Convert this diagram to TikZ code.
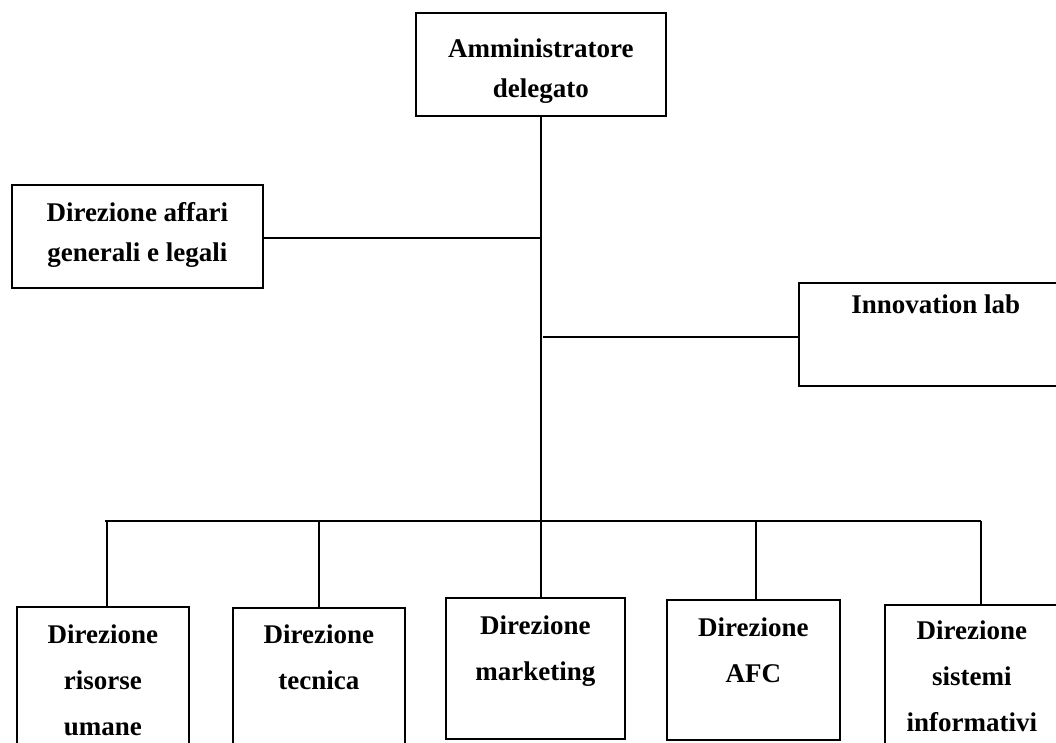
\documentclass[tikz,border=0pt]{standalone}
\usepackage{fontspec}
\setmainfont{Liberation Serif}
\begin{document}
\begin{tikzpicture}[x=1pt,y=-1pt,
  line width=1.7pt,
  box/.style 2 args={draw,line width=1.7pt,anchor=north west,inner sep=0pt,
    minimum width=#1,minimum height=#2},
  lblA/.style={anchor=north,align=center,inner sep=0pt,
    font=\bfseries\fontsize{27}{40}\selectfont},
  lblB/.style={anchor=north,align=center,inner sep=0pt,
    font=\bfseries\fontsize{27}{46}\selectfont}]
\useasboundingbox (0,0) rectangle (1056,742);
\clip (0,0) rectangle (1056,742);
% boxes
\node[box={250pt}{103pt},label={[lblA,name=tad,yshift=-26pt]north:Amministratore\\delegato}] (ad) at (415,12) {};
\node[box={251pt}{103pt},label={[lblA,name=taff,yshift=-18pt]north:Direzione affari\\generali e legali}] (aff) at (11,184) {};
\node[box={274pt}{103pt},label={[lblA,name=tinn,yshift=-12pt]north:Innovation lab}] (inn) at (798,282) {};
\node[box={172pt}{160pt},label={[lblB,name=tru,yshift=-17.6pt]north:Direzione\\risorse\\umane}] (ru) at (16,606) {};
\node[box={172pt}{160pt},label={[lblB,name=tte,yshift=-16.6pt]north:Direzione\\tecnica}] (te) at (232,607) {};
\node[box={179pt}{141pt},label={[lblB,name=tmk,yshift=-17.6pt]north:Direzione\\marketing}] (mk) at (445,597) {};
\node[box={173pt}{140pt},label={[lblB,name=tafc,yshift=-17.6pt]north:Direzione\\AFC}] (afc) at (666,599) {};
\node[box={174pt}{160pt},label={[lblB,name=tsi,yshift=-15.6pt]north:Direzione\\sistemi\\informativi}] (si) at (884,604) {};
% connectors
\coordinate (busL) at (105,521);
\coordinate (busR) at (981,521);
\coordinate (innL) at (543,337);
\coordinate (affR) at (263,238);
\draw (ad.south) -- (ad.south |- mk.north);
\draw (affR) -- (affR -| ad.south);
\draw (inn.west |- innL) -- (innL);
\draw (busL) -- (busR);
\draw (107,521) -- (107,0 |- ru.north);
\draw (319,521) -- (319,0 |- te.north);
\draw (756,521) -- (756,0 |- afc.north);
\draw (busR) -- (busR |- si.north);
\end{tikzpicture}
\end{document}
